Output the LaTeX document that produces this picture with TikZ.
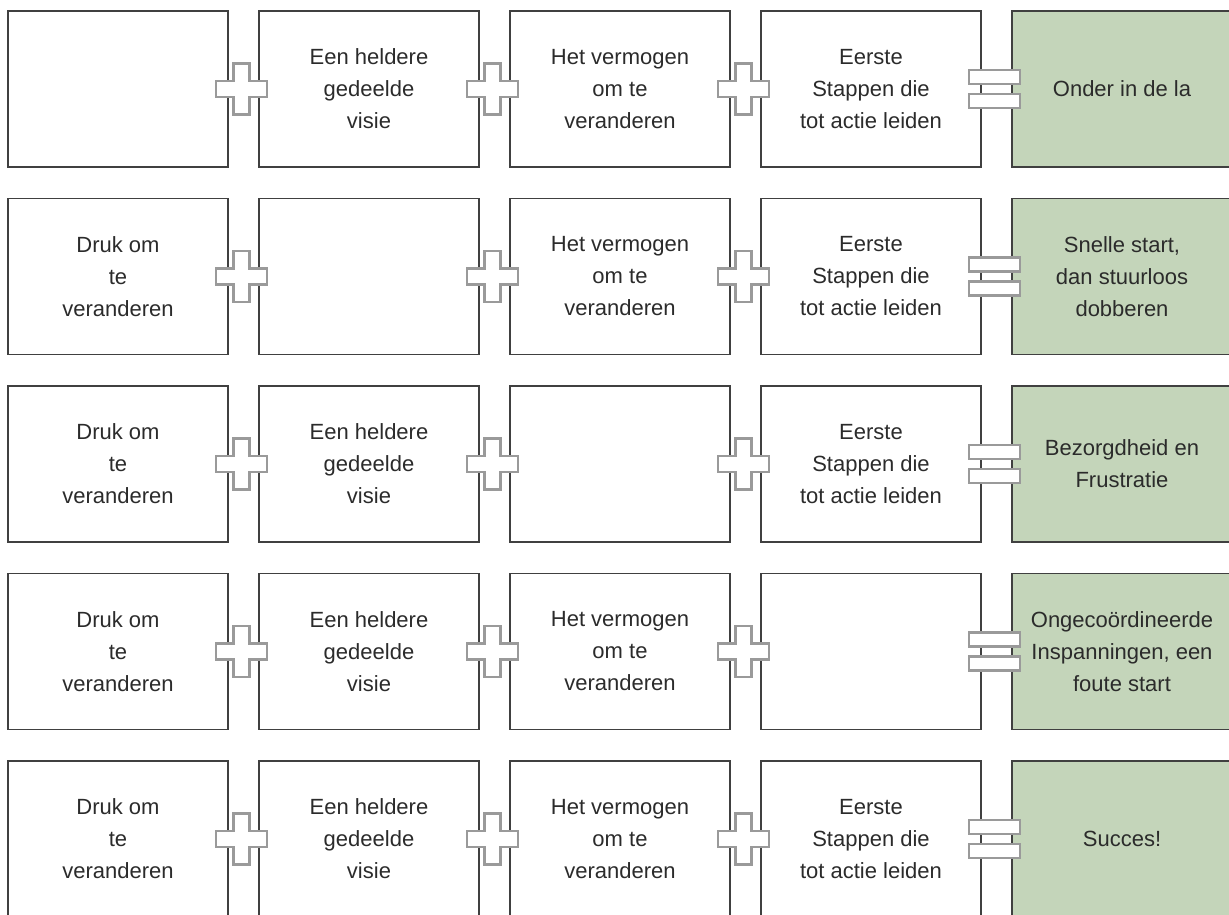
\documentclass[tikz,border=0pt]{standalone}
\usepackage{fontspec}
\setmainfont{Liberation Sans}
\usetikzlibrary{calc}
\definecolor{txt}{HTML}{2B2B2B}
\definecolor{edgegray}{HTML}{404040}
\definecolor{sage}{HTML}{C4D5BA}
\definecolor{symgray}{HTML}{9A9A9A}
\tikzset{
  box/.style={draw=edgegray, line width=1.4pt, minimum width=220pt, minimum height=156pt,
    inner sep=0pt, align=center, text=txt, font=\fontsize{22}{32}\selectfont},
  result/.style={box, fill=sage},
  symbolline/.style={draw=symgray, fill=white, line width=2.5pt},
  plusmark/.pic={\draw[symbolline] (-8,-25.5) -- (8,-25.5) -- (8,-8) -- (25.5,-8) -- (25.5,8)
     -- (8,8) -- (8,25.5) -- (-8,25.5) -- (-8,8) -- (-25.5,8) -- (-25.5,-8) -- (-8,-8) -- cycle;},
  equalmark/.pic={\draw[symbolline] (-25.5,-19) rectangle (25.5,-5);
     \draw[symbolline] (-25.5,5) rectangle (25.5,19);}
}
\begin{document}
\begin{tikzpicture}[x=1pt,y=-1pt]
\useasboundingbox (0,0) rectangle (1229,914);
\clip (0,0) rectangle (1229,914);
\foreach \i/\cy/\res in {1/89/{Onder in de la},
    2/276.5/{Snelle start,\\dan stuurloos\\dobberen},
    3/464/{Bezorgdheid en\\Frustratie},
    4/651.5/{Ongecoördineerde\\Inspanningen, een\\foute start},
    5/839/{Succes!}} {
  \node[box] (r\i-c1) at (118,\cy) {\ifnum\i=1 \else Druk om\\te\\veranderen\fi};
  \node[box] (r\i-c2) at (369,\cy) {\ifnum\i=2 \else Een heldere\\gedeelde\\visie\fi};
  \node[box] (r\i-c3) at (620,\cy) {\ifnum\i=3 \else Het vermogen\\om te\\veranderen\fi};
  \node[box] (r\i-c4) at (871,\cy) {\ifnum\i=4 \else Eerste\\Stappen die\\tot actie leiden\fi};
  \node[result] (r\i-c5) at (1122,\cy) {\res};
  \pic at ($(r\i-c1.east)!0.5!(r\i-c2.west)+(-2,0)$) {plusmark};
  \pic at ($(r\i-c2.east)!0.5!(r\i-c3.west)+(-2,0)$) {plusmark};
  \pic at ($(r\i-c3.east)!0.5!(r\i-c4.west)+(-2,0)$) {plusmark};
  \pic at ($(r\i-c4.east)!0.5!(r\i-c5.west)+(-2,0)$) {equalmark};
}
\end{tikzpicture}
\end{document}
